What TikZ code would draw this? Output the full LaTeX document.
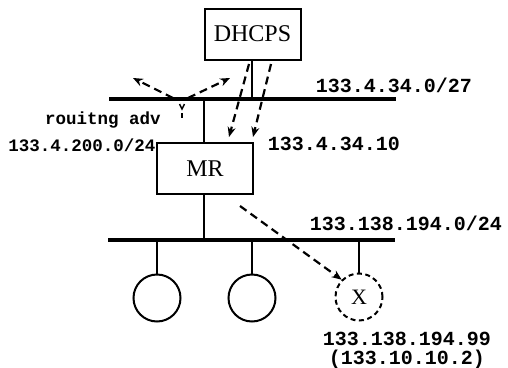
\documentclass[tikz,border=0pt]{standalone}
\usepackage{fontspec}
\setmainfont{Liberation Serif}
\setmonofont{Liberation Mono}
\usetikzlibrary{arrows.meta}

\begin{document}
\begin{tikzpicture}[x=1pt, y=-1pt, >={Stealth[length=10pt, width=8pt]},
  box/.style={draw, line width=2pt, minimum width=96pt, minimum height=51pt,
    inner sep=0pt, font=\fontsize{24}{26}\selectfont},
  host/.style={circle, draw, line width=2pt, minimum size=47pt, inner sep=0pt},
  bus/.style={line width=3.4pt},
  msg/.style={line width=2.2pt, dash pattern=on 8pt off 5pt, ->},
  addr/.style={inner sep=0pt, font=\ttfamily\bfseries\fontsize{20}{22}\selectfont},
  small addr/.style={inner sep=0pt, font=\ttfamily\bfseries\fontsize{17.5}{19}\selectfont}]
  % Page frame (508 x 367)
  \useasboundingbox (0,0) rectangle (508,367);
  % Boxes: DHCP server and mobile router
  \node[box] (dhcps) at (252.5,34) {DHCPS};
  \node[box] (mr) at (205,168.5) {MR};
  % Upper segment 133.4.34.0/27
  \coordinate (up-l) at (109,99);
  \coordinate (up-r) at (396,99);
  \draw[bus] (up-l) -- (up-r);
  \coordinate (dh-tap) at (252,99);
  \coordinate (mr-tap) at (204,99);
  \draw[line width=2.8pt] (dhcps.south -| dh-tap) -- (dh-tap);
  \draw[line width=2.8pt] (mr.north -| mr-tap) -- (mr-tap);
  % Lower segment 133.138.194.0/24
  \coordinate (lo-l) at (108,240);
  \coordinate (lo-r) at (395,240);
  \draw[bus] (lo-l) -- (lo-r);
  \coordinate (mr-down) at (204,240);
  \draw[line width=2.8pt] (mr.south -| mr-down) -- (mr-down);
  % Hosts on the lower segment
  \foreach \n/\x in {h1/157, h2/252} {
    \node[host] (\n) at (\x,298) {};
    \draw[line width=2.8pt] (\n.north) -- (\x,240);
  }
  \node[host, dash pattern=on 5pt off 3.5pt, font=\fontsize{22}{24}\selectfont] (mn) at (359,297) {X};
  \draw[line width=2.8pt] (mn.north) -- (359,240);
  % DHCP messages between DHCPS and MR
  \coordinate (d1) at (249,64);
  \coordinate (d2) at (271,64);
  \coordinate (m1) at (229,137);
  \coordinate (m2) at (253,137);
  \draw[msg] (d1) -- (m1);
  \draw[msg] (d2) -- (m2);
  % Routing advertisement
  \coordinate (a1) at (173,98);
  \coordinate (a2) at (188,98);
  \coordinate (ad-l) at (133,78);
  \coordinate (ad-r) at (230,78);
  \draw[msg] (a1) -- (ad-l);
  \draw[msg] (a2) -- (ad-r);
  \draw[line width=1.5pt] (179.5,104) -- (182,109) -- (184.5,104);
  \draw[line width=1.5pt] (182,113) -- (182,118);
  % Forwarding from MR to X
  \coordinate (fw) at (240,206);
  \draw[msg] (fw) -- (mn.north west);
  % Address labels
  \node[addr] (up-net) at (394,85) {133.4.34.0/27};
  \node[addr] (mr-addr) at (334,144) {133.4.34.10};
  \node[small addr] (adv) at (103,120) {rouitng adv};
  \node[small addr] (adv-net) at (82,145) {133.4.200.0/24};
  \node[addr] (lo-net) at (406,223) {133.138.194.0/24};
  \node[addr] (mn-addr) at (407,339) {133.138.194.99};
  \node[addr] (mn-home) at (407,359) {(133.10.10.2)};
\end{tikzpicture}
\end{document}
